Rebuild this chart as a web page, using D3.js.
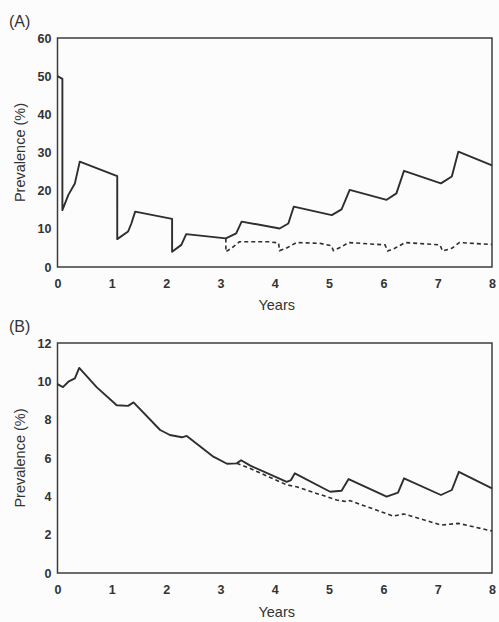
<!DOCTYPE html>
<html>
<head>
<meta charset="utf-8">
<script src="https://cdn.jsdelivr.net/npm/d3@7"></script>
<style>
  body { margin: 0; background: #fbfcfb; }
  svg text { font-family: "Liberation Sans", Arial, sans-serif; fill: #333; }
</style>
</head>
<body>
<svg id="chart" width="499" height="622"></svg>
<script>
// x ticks shared by both panels (years)
var yearTicks = [0, 1, 2, 3, 4, 5, 6, 7, 8];
var ticksA = [0, 10, 20, 30, 40, 50, 60];
var ticksB = [0, 2, 4, 6, 8, 10, 12];

// panel A, solid line  [year, prevalence %]
var aSolid = [
  [0, 50], [0.09, 49.3], [0.09, 14.9], [0.2, 18.9], [0.32, 21.9], [0.41, 27.6],
  [1.1, 23.8], [1.1, 7.3], [1.3, 9.3], [1.36, 11.4], [1.43, 14.5],
  [2.11, 12.6], [2.11, 4.0], [2.28, 5.8], [2.37, 8.6],
  [3.1, 7.5], [3.29, 8.8], [3.39, 11.9],
  [4.09, 10.1], [4.25, 11.4], [4.35, 15.8],
  [5.05, 13.6], [5.23, 15.1], [5.38, 20.2],
  [6.06, 17.6], [6.24, 19.3], [6.38, 25.2],
  [7.06, 21.9], [7.26, 23.7], [7.38, 30.2],
  [8.0, 26.6]
];
// panel A, dashed line
var aDashed = [
  [3.1, 7.5], [3.1, 4.0], [3.2, 4.9], [3.35, 6.6], [3.9, 6.6], [4.07, 6.3],
  [4.09, 4.3], [4.21, 4.9], [4.4, 6.4], [4.83, 6.2], [5.04, 5.6],
  [5.08, 4.3], [5.23, 5.3], [5.36, 6.4], [6.03, 5.8],
  [6.08, 4.2], [6.21, 4.9], [6.4, 6.4], [7.04, 5.8],
  [7.09, 4.2], [7.26, 4.9], [7.4, 6.4], [8.0, 5.9]
];
// panel B, solid line
var bSolid = [
  [0, 9.85], [0.1, 9.7], [0.2, 9.98], [0.32, 10.15], [0.4, 10.7], [0.72, 9.7],
  [1.09, 8.75], [1.3, 8.72], [1.4, 8.9], [1.89, 7.46], [2.07, 7.2], [2.29, 7.08],
  [2.38, 7.15], [2.87, 6.07], [3.12, 5.7], [3.3, 5.72], [3.38, 5.88], [3.55, 5.6],
  [4.22, 4.76], [4.3, 4.85], [4.37, 5.2], [5.02, 4.24], [5.23, 4.29], [5.36, 4.9],
  [6.06, 3.98], [6.27, 4.19], [6.38, 4.94], [7.06, 4.07], [7.26, 4.33], [7.39, 5.28],
  [8.0, 4.42]
];
// panel B, dashed line (splits off from the solid one after year 3)
var bDashed = [
  [3.3, 5.72], [3.55, 5.45], [4.22, 4.6], [4.4, 4.5], [5.14, 3.81], [5.33, 3.72],
  [5.38, 3.78], [6.18, 2.97], [6.38, 3.08], [7.07, 2.5], [7.38, 2.59], [8.0, 2.19]
];

var svg = d3.select("#chart");
var left = 57.5, right = 492;

var x = d3.scaleLinear().domain([0, 8]).range([left, right]);

function drawPanel(label, yTop, yBottom, maxY, yt, solid, dashed, labelY, titleY) {
  var y = d3.scaleLinear().domain([0, maxY]).range([yBottom, yTop]);
  var g = svg.append("g");

  var xAxis = d3.axisBottom(x).tickValues(yearTicks).tickSize(0).tickPadding(12).tickFormat(d3.format("d"));
  var yAxis = d3.axisLeft(y).tickValues(yt).tickSize(0).tickPadding(6).tickFormat(d3.format("d"));

  g.append("g").attr("transform", "translate(0," + yBottom + ")").call(xAxis)
    .call(a => a.select(".domain").remove())
    .selectAll("text").style("font-size", "12.5px").style("font-weight", "bold").attr("fill", "#3a3a3a");
  g.append("g").attr("transform", "translate(" + left + ",0)").call(yAxis)
    .call(a => a.select(".domain").remove())
    .selectAll("text").style("font-size", "12.5px").style("font-weight", "bold").attr("fill", "#3a3a3a");

  // frame
  g.append("rect")
    .attr("x", left).attr("y", yTop)
    .attr("width", right - left).attr("height", yBottom - yTop)
    .attr("fill", "none").attr("stroke", "#3c3c3c").attr("stroke-width", 1.5);

  var line = d3.line().x(d => x(d[0])).y(d => y(d[1]));

  g.append("path").datum(solid)
    .attr("d", line).attr("fill", "none")
    .attr("stroke", "#2e2e2e").attr("stroke-width", 1.9).attr("stroke-linejoin", "round");
  g.append("path").datum(dashed)
    .attr("d", line).attr("fill", "none")
    .attr("stroke", "#2e2e2e").attr("stroke-width", 1.6).attr("stroke-dasharray", "4,3");

  // labels
  g.append("text").attr("x", 9).attr("y", labelY).text(label)
    .style("font-size", "16px");
  g.append("text").attr("x", (left + right) / 2 + 2).attr("y", titleY).text("Years")
    .attr("text-anchor", "middle").style("font-size", "14.5px");
  g.append("text")
    .attr("transform", "translate(25," + ((yTop + yBottom) / 2) + ") rotate(-90)")
    .attr("text-anchor", "middle").text("Prevalence (%)")
    .style("font-size", "14.5px");
}

drawPanel("(A)", 38, 267, 60, ticksA, aSolid, aDashed, 27, 310);
drawPanel("(B)", 343, 573, 12, ticksB, bSolid, bDashed, 332, 617);
</script>
</body>
</html>
